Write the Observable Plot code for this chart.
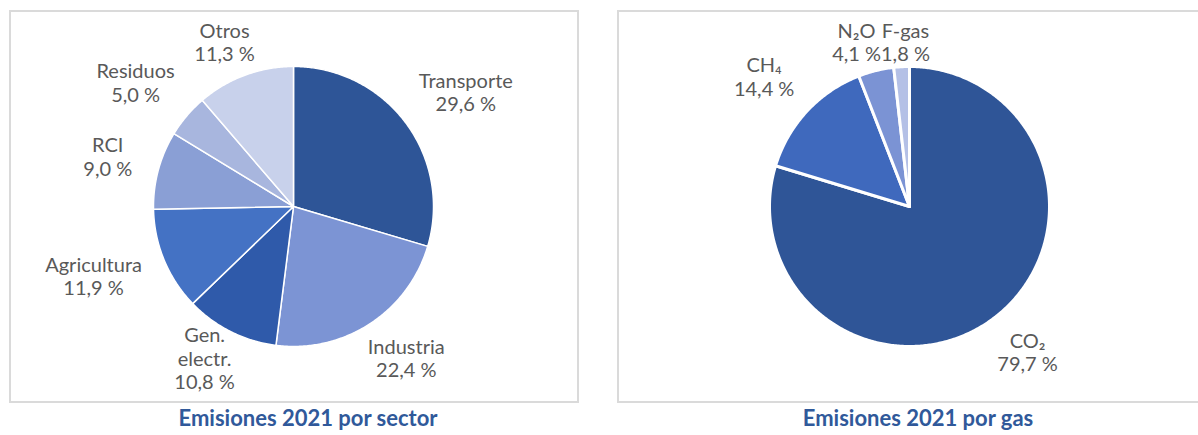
<!DOCTYPE html>
<html><head><meta charset="utf-8">
<script src="https://cdn.jsdelivr.net/npm/d3@7"></script>
<script src="https://cdn.jsdelivr.net/npm/@observablehq/plot@0.6"></script>
<style>
body{margin:0;background:#fff;width:1198px;height:435px;overflow:hidden;position:relative;font-family:Lato,"Open Sans",sans-serif;}
.box{position:absolute;border:2px solid #dadada;box-sizing:border-box;}
.chart{position:absolute;}
.title{position:absolute;width:400px;text-align:center;font-family:Lato,sans-serif;font-weight:bold;font-size:22px;color:#30599a;line-height:24px;}
</style></head><body>
<div class="box" style="left:9px;top:10px;width:570px;height:393px"></div>
<div class="box" style="left:617px;top:10px;width:600px;height:393px"></div>
<div id="c1" class="chart" style="left:11px;top:12px"></div>
<div id="c2" class="chart" style="left:619px;top:12px"></div>
<div class="title" style="left:108px;top:406px">Emisiones 2021 por sector</div>
<div class="title" style="left:718px;top:406px">Emisiones 2021 por gas</div>
<script>
// ---- data ----
const sectors = ["Transporte", "Industria", "Gen. electr.", "Agricultura", "RCI", "Residuos", "Otros"];
const sectorShares = [29.6, 22.4, 10.8, 11.9, 9.0, 5.0, 11.3];
const sectorColors = ["#2e5597", "#7c94d4", "#2f5aaa", "#4472c4", "#8a9fd5", "#a8b6de", "#c8d1eb"];

const gases = ["CO₂", "CH₄", "N₂O", "F-gas"];
const gasShares = [79.7, 14.4, 4.1, 1.8];
const gasColors = ["#2f5597", "#3f69bd", "#7b93d4", "#b4c0e6"];

// ---- helpers ----
const FONT = "Lato, 'Open Sans', sans-serif";
const FS = 20, LH = 1.17;
const ctx = document.createElement("canvas").getContext("2d");
ctx.font = `${FS}px Lato`;
const tw = s => ctx.measureText(s).width;
const fmt = v => v.toFixed(1).replace(".", ",") + " %";

function wrap(text, maxW) {
  const words = text.split(" ");
  const lines = [];
  let cur = "";
  for (const w of words) {
    const t = cur ? cur + " " + w : w;
    if (cur && tw(t) > maxW) { lines.push(cur); cur = w; } else cur = t;
  }
  lines.push(cur);
  return lines;
}

function pieChart(el, names, values, colors, o) {
  const {W, H, cx, cy, R, gap, sw, maxW, top, bottom} = o;
  const arcs = d3.pie().sort(null).value(d => d)(values);
  const slices = [];
  arcs.forEach((a, i) => {
    slices.push({name: names[i], x: 0, y: 0});
    const n = Math.max(2, Math.ceil((a.endAngle - a.startAngle) / 0.01));
    for (let k = 0; k <= n; k++) {
      const t = a.startAngle + (a.endAngle - a.startAngle) * k / n;
      slices.push({name: names[i], x: Math.sin(t), y: Math.cos(t)});
    }
  });
  // label placement (pixel space, then to data units)
  const labels = arcs.map((a, i) => {
    const lines = [...wrap(names[i], maxW), fmt(values[i])];
    const w = d3.max(lines, tw);
    const h = lines.length * FS * LH;
    const m = (a.startAngle + a.endAngle) / 2;
    const ux = Math.sin(m), uy = -Math.cos(m);
    let px = cx + (R + gap) * ux + (w / 2) * ux;
    let py = cy + (R + gap) * uy + (h / 2) * uy * (uy > 0 ? 0.55 : 1);
    py = Math.max(top + h / 2, Math.min(bottom - h / 2, py));
    return {text: lines.join("\n"), w, h, px, py};
  });
  for (let it = 0; it < 10; it++) {
    for (let i = 0; i < labels.length; i++) for (let j = i + 1; j < labels.length; j++) {
      const A = labels[i], B = labels[j];
      const need = (A.w + B.w) / 2, dx = B.px - A.px;
      if (Math.abs(dx) < need && Math.abs(B.py - A.py) < (A.h + B.h) / 2) {
        const s = (need - Math.abs(dx)) / 2 * (dx >= 0 ? 1 : -1);
        A.px -= s; B.px += s;
      }
    }
  }
  labels.forEach(l => { l.x = (l.px - cx) / R; l.y = (cy - l.py) / R; });

  const chart = Plot.plot({
    width: W, height: H, margin: 0,
    style: {fontFamily: FONT, background: "transparent", overflow: "visible"},
    x: {domain: [-cx / R, (W - cx) / R], axis: null},
    y: {domain: [-(H - cy) / R, cy / R], axis: null},
    color: {domain: names, range: colors},
    marks: [
      Plot.line(slices, {x: "x", y: "y", z: "name", fill: "name", stroke: "white", strokeWidth: sw, strokeLinejoin: "round", curve: "linear-closed"}),
      Plot.text(labels, {x: "x", y: "y", text: "text", fontSize: FS, lineHeight: LH, fill: "#595959", textAnchor: "middle", lineAnchor: "middle"})
    ]
  });
  document.getElementById(el).appendChild(chart);
}

pieChart("c1", sectors, sectorShares, sectorColors,
  {W: 566, H: 389, cx: 282, cy: 194, R: 140, gap: 28, sw: 1.5, maxW: 70, top: 6, bottom: 381});
pieChart("c2", gases, gasShares, gasColors,
  {W: 577, H: 389, cx: 290, cy: 194, R: 140, gap: 28, sw: 3, maxW: 999, top: 6, bottom: 381});
</script>
</body></html>
